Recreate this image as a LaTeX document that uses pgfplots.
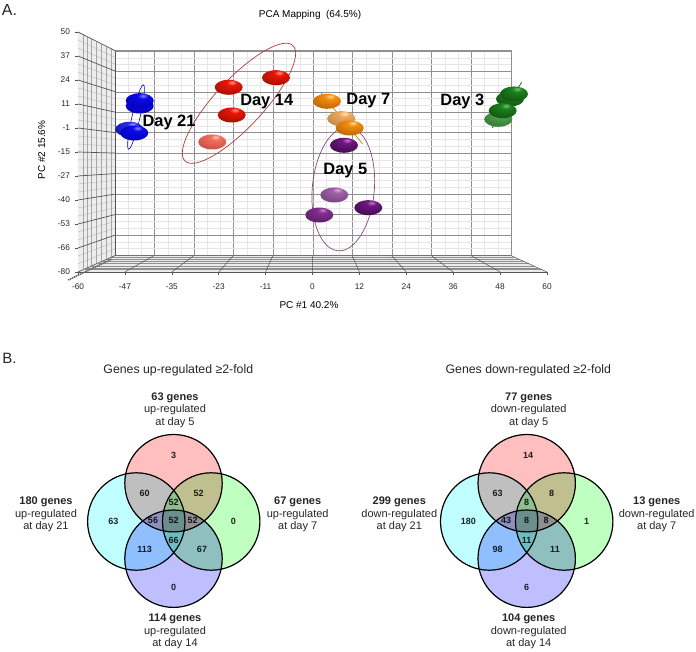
\documentclass[border=0pt]{standalone}
\usepackage{fontspec}
\setmainfont{Liberation Sans}
\usepackage{pgfplots}
\pgfplotsset{compat=1.18}
\newcommand{\fs}[2][]{\fontsize{#2}{#2}\selectfont}

% shaded flattened ball: name, highlight, body, rim
\newcommand{\declareball}[4]{%
  \definecolor{#1a}{HTML}{#2}\definecolor{#1b}{HTML}{#3}\definecolor{#1c}{HTML}{#4}%
  \pgfdeclareradialshading{shade#1}{\pgfpoint{6bp}{17bp}}{color(0bp)=(#1a);color(9bp)=(#1b);color(42bp)=(#1c);color(100bp)=(#1c)}%
  \pgfdeclareplotmark{#1}{\pgfpathellipse{\pgfpointorigin}{\pgfqpoint{14pt}{0pt}}{\pgfqpoint{0pt}{7.5pt}}\pgfshadepath{shade#1}{0}\pgfusepath{discard}}%
}
\declareball{bblue}{8C8CFF}{0A0AEE}{0000A8}
\declareball{bbluep}{A0A0FF}{2A2AE8}{1010A0}
\declareball{bred}{FF9A90}{EA1408}{961000}
\declareball{bredp}{FFC8B8}{F06E5E}{C04A40}
\declareball{borange}{FFE0A0}{F48C10}{B06000}
\declareball{borangep}{FFE8C8}{EEAA5E}{B88040}
\declareball{bpurple}{D070D0}{6E1880}{3A0848}
\declareball{bpurplem}{C880C8}{82308C}{581868}
\declareball{bpurplep}{DDB0DD}{A060A8}{70407A}
\declareball{bgreen}{70C870}{1E801E}{0E4E0E}
\declareball{bgreenp}{90D090}{50A050}{307030}

% confidence rings: name, half axis, half axis, tilt
\newcommand{\declarering}[4]{%
  \pgfdeclareplotmark{#1}{\pgfpathellipse{\pgfpointorigin}{\pgfpointpolar{#4}{#2pt}}{\pgfpointpolar{#4+90}{#3pt}}\pgfusepathqstroke}%
}
\declarering{rblue}{33}{4}{77}
\declarering{rred}{79}{24}{47}
\declarering{rpurple}{62}{31}{85}

\definecolor{majgrid}{HTML}{8F8F8F}
\definecolor{mingrid}{HTML}{E6E6E6}
\definecolor{axisgray}{HTML}{555555}
\definecolor{vpink}{HTML}{FFBFBF}
\definecolor{vcyan}{HTML}{BFFFFF}
\definecolor{vgreen}{HTML}{BFFFBF}
\definecolor{vblue}{HTML}{BFBFFF}

\pgfplotstableread{
x y n
173.7 455.7 3
144.7 493.3 60
198.7 493.3 52
173.7 502.3 52
113.3 521 63
153 520.3 56
173.7 520.3 52
192.7 520.3 52
233.3 521 0
173.7 540 66
144.7 549.3 113
202 549.3 67
173.7 587.3 0
}\upcounts
\pgfplotstableread{
x y n
528 455.7 14
497.7 493.3 63
551.7 493.3 8
526.7 502.3 8
468.3 521 180
506 520.3 43
526.7 520.3 8
546 520.3 8
586.7 521 1
526.7 540 11
497.7 549.3 98
555 549.3 11
526.7 587.3 6
}\downcounts

\begin{document}
\begin{tikzpicture}[x=1pt,y=1pt]
\path[use as bounding box] (0,0) rectangle (696,652);

% back wall of the PCA box
\begin{axis}[
    at={(115pt,396.4pt)}, anchor=south west,
    scale only axis, width=396pt, height=204.6pt,
    xmin=-60, xmax=60, ymin=-80, ymax=50,
    xtick={-60,-48,-36,-24,-12,0,12,24,36,48,60},
    ytick={-80,-67,-54,-41,-28,-15,-2,11,24,37,50},
    minor tick num=2,
    xticklabels={}, yticklabels={},
    major tick length=0pt, minor tick length=0pt,
    grid=both,
    major grid style={majgrid,line width=0.8pt},
    minor grid style={mingrid,line width=0.6pt},
    axis line style={majgrid,line width=1pt},
]
\end{axis}

% front frame of the PCA box, walls and samples
\begin{axis}[
    at={(78pt,380pt)}, anchor=south west,
    scale only axis, width=469pt, height=240pt,
    xmin=-60, xmax=60, ymin=-80, ymax=50,
    clip=false,
    axis lines=left, axis line style={-,axisgray,line width=0.8pt},
    xtick={-60,-48,-36,-24,-12,0,12,24,36,48,60},
    xticklabels={-60,-47,-35,-23,-11,0,12,24,36,48,60},
    ytick={-80,-67,-54,-41,-28,-15,-2,11,24,37,50},
    yticklabels={-80,-66,-53,-40,-27,-15,-1,11,24,37,50},
    tick align=outside, major tick length=3.5pt,
    tick style={axisgray,line width=0.6pt},
    ticklabel style={font=\fs{8.3},text=black!85},
    xticklabel style={yshift=-5pt},
    yticklabel style={xshift=-1pt},
    title={PCA Mapping\ \ (64.5\%)},
    title style={at={(axis description cs:0.4947,1.046)},anchor=center,font=\fs{10},inner sep=0pt},
    xlabel={PC \#1 40.2\%},
    xlabel style={at={(axis description cs:0.4925,-0.1375)},anchor=center,font=\fs{10},inner sep=0pt},
    ylabel={PC \#2 15.6\%},
    ylabel style={at={(axis description cs:-0.0774,0.508)},anchor=center,font=\fs{10},inner sep=0pt},
    unbounded coords=jump,
]
% left wall and floor
\addplot[draw=none,fill=black!7,forget plot] coordinates {(-60,50) (-50.53,39.9) (-50.53,-71.1) (-60,-80)} -- cycle;
\addplot[draw=none,fill=black!8,forget plot] coordinates {(-60,-80) (-50.53,-71.1) (50.79,-71.1) (60,-80)} -- cycle;
% left wall, light rows
\addplot[black!25,line width=0.5pt] coordinates {
(-60,45.67) (-50.53,36.21) (nan,nan) (-60,41.33) (-50.53,32.51) (nan,nan)
(-60,32.67) (-50.53,25.11) (nan,nan) (-60,28.33) (-50.53,21.4) (nan,nan)
(-60,19.67) (-50.53,14.01) (nan,nan) (-60,15.33) (-50.53,10.3) (nan,nan)
(-60,6.67) (-50.53,2.91) (nan,nan) (-60,2.33) (-50.53,-0.8) (nan,nan)
(-60,-6.33) (-50.53,-8.2) (nan,nan) (-60,-10.67) (-50.53,-11.9) (nan,nan)
(-60,-19.33) (-50.53,-19.3) (nan,nan) (-60,-23.67) (-50.53,-23) (nan,nan)
(-60,-32.33) (-50.53,-30.4) (nan,nan) (-60,-36.67) (-50.53,-34.11) (nan,nan)
(-60,-45.33) (-50.53,-41.5) (nan,nan) (-60,-49.67) (-50.53,-45.21) (nan,nan)
(-60,-58.33) (-50.53,-52.6) (nan,nan) (-60,-62.67) (-50.53,-56.31) (nan,nan)
(-60,-71.33) (-50.53,-63.71) (nan,nan) (-60,-75.67) (-50.53,-67.41)
};
% left wall, depth columns
\addplot[black!35,line width=0.6pt] coordinates {
(-58.64,48.5) (-58.64,-78.75) (nan,nan) (-57.62,47.4) (-57.62,-77.78) (nan,nan)
(-56.49,46.2) (-56.49,-76.75) (nan,nan) (-55.21,44.8) (-55.21,-75.56) (nan,nan)
(-53.94,43.45) (-53.94,-74.37) (nan,nan) (-52.66,42.04) (-52.66,-73.18) (nan,nan)
(-51.38,40.68) (-51.38,-71.99)
};
% left wall, strong rows
\addplot[axisgray,line width=0.7pt] coordinates {
(-60,50) (-50.53,39.9) (nan,nan) (-60,37) (-50.53,28.8) (nan,nan)
(-60,24) (-50.53,17.7) (nan,nan) (-60,11) (-50.53,6.6) (nan,nan)
(-60,-2) (-50.53,-4.5) (nan,nan) (-60,-15) (-50.53,-15.6) (nan,nan)
(-60,-28) (-50.53,-26.7) (nan,nan) (-60,-41) (-50.53,-37.8) (nan,nan)
(-60,-54) (-50.53,-48.9) (nan,nan) (-60,-67) (-50.53,-60) (nan,nan)
(-60,-80) (-50.53,-71.1)
};
% floor rows
\addplot[majgrid,line width=0.7pt] coordinates {
(-58.64,-78.75) (58.67,-78.75) (nan,nan) (-57.62,-77.78) (57.67,-77.78) (nan,nan)
(-56.49,-76.75) (56.56,-76.75) (nan,nan) (-55.21,-75.56) (55.31,-75.56) (nan,nan)
(-53.94,-74.37) (54.05,-74.37) (nan,nan) (-52.66,-73.18) (52.8,-73.18) (nan,nan)
(-51.38,-71.99) (51.55,-71.99)
};
% floor depth lines and edges
\addplot[axisgray,line width=0.5pt] coordinates {
(-48,-80) (-40.53,-71.1) (nan,nan) (-36,-80) (-30.4,-71.1) (nan,nan)
(-24,-80) (-20.26,-71.1) (nan,nan) (-12,-80) (-10.13,-71.1) (nan,nan)
(0,-80) (0,-71.1) (nan,nan) (12,-80) (10.13,-71.1) (nan,nan)
(24,-80) (20.26,-71.1) (nan,nan) (36,-80) (30.4,-71.1) (nan,nan)
(48,-80) (40.53,-71.1) (nan,nan) (60,-80) (50.79,-71.1)
};
\addplot[axisgray,line width=0.9pt] coordinates {(-50.53,39.9) (-50.53,-71.1)};
\addplot[majgrid!80!black,line width=1pt] coordinates {(-50.53,-71.1) (50.79,-71.1)};
% depth ticks packed along the lower left edge
\addplot[black!60,line width=1.6pt,dash pattern=on 1.4pt off 0.7pt] coordinates {(-62.48,-84.33) (-51.3,-72.96)};

% rings and whiskers behind the balls
\addplot[only marks,mark=rblue,mark options={draw=blue!75!black,line width=0.6pt}] coordinates {(-45.16,3.96)};
\addplot[only marks,mark=rred,mark options={draw=red!55!black!75,line width=0.7pt}] coordinates {(-18.81,11.38)};
\addplot[only marks,mark=rpurple,mark options={draw=violet!60!black!70,line width=0.7pt}] coordinates {(7.88,-35.04)};
\addplot[orange!90!black,line width=0.7pt] coordinates {(2.17,16.96) (12.84,-10.67)};
\addplot[green!40!black,line width=0.7pt] coordinates {(53.52,22.75) (46,-1.89)};

% samples
\addplot[only marks,mark=bblue] coordinates {(-44.21,9.92) (-44.21,12.79)};
\addplot[only marks,mark=bbluep] coordinates {(-46.87,-2.7)};
\addplot[only marks,mark=bblue] coordinates {(-45.59,-4.71)};
\addplot[only marks,mark=bred] coordinates {(-21.44,20.05) (-9.34,25.25) (-20.67,5.04)};
\addplot[only marks,mark=bredp] coordinates {(-25.64,-9.58)};
\addplot[only marks,mark=borange] coordinates {(3.71,12.46)};
\addplot[only marks,mark=borangep] coordinates {(7.37,3.04)};
\addplot[only marks,mark=borange] coordinates {(9.52,-2)};
\addplot[only marks,mark=bpurple] coordinates {(8.06,-11.37) (14.28,-45.17)};
\addplot[only marks,mark=bpurplep] coordinates {(5.58,-38.29)};
\addplot[only marks,mark=bpurplem] coordinates {(1.74,-49.13)};
\addplot[only marks,mark=bgreenp] coordinates {(47.54,2.71)};
\addplot[only marks,mark=bgreen] coordinates {(50.53,13.71) (51.56,16.42) (48.66,7.37)};
\end{axis}

% panel B and all free text, in picture pixels
\begin{scope}[blend mode=multiply]
\begin{axis}[
    at={(0pt,0pt)}, anchor=south west,
    scale only axis, width=696pt, height=652pt,
    xmin=0, xmax=696, ymin=0, ymax=652, y dir=reverse,
    axis lines=none, clip=false,
    every node near coord/.style={anchor=center,inner sep=0pt,font=\fs{9}\bfseries,text=black!85},
]
\addplot[only marks,mark=*,mark size=48.7pt,mark options={draw=black,fill=vpink,line width=1.2pt}] coordinates {(173.5,483.2) (526.7,483.2)};
\addplot[only marks,mark=*,mark size=48.7pt,mark options={draw=black,fill=vcyan,line width=1.2pt}] coordinates {(136.3,521.5) (489.2,521.5)};
\addplot[only marks,mark=*,mark size=48.7pt,mark options={draw=black,fill=vgreen,line width=1.2pt}] coordinates {(211.2,521.5) (564.2,521.5)};
\addplot[only marks,mark=*,mark size=48.7pt,mark options={draw=black,fill=vblue,line width=1.2pt}] coordinates {(173.5,558.7) (526.7,558.7)};
\addplot[draw=none,mark=none,nodes near coords,point meta=explicit symbolic] table[x=x,y=y,meta=n] {\upcounts};
\addplot[draw=none,mark=none,nodes near coords,point meta=explicit symbolic] table[x=x,y=y,meta=n] {\downcounts};

\node[font=\fs{16},text=black!85,anchor=center] at (axis cs:9.5,9.5) {A.};
\node[font=\fs{15},text=black!85,anchor=center] at (axis cs:9.5,358) {B.};
\tikzset{vlab/.style={align=center,anchor=center,inner sep=0pt,text=black!85,font=\fontsize{11}{12.5}\selectfont}}
\node[font=\fs{12.3},text=black!85] at (axis cs:178.3,370.7) {Genes up-regulated ≥2-fold};
\node[font=\fs{12.3},text=black!85] at (axis cs:528.3,370.7) {Genes down-regulated ≥2-fold};
\node[vlab] at (axis cs:175,410.3) {\textbf{63 genes}\\up-regulated\\at day 5};
\node[vlab] at (axis cs:46,514.3) {\textbf{180 genes}\\up-regulated\\at day 21};
\node[vlab] at (axis cs:297.7,514.3) {\textbf{67 genes}\\up-regulated\\at day 7};
\node[vlab] at (axis cs:175,631.7) {\textbf{114 genes}\\up-regulated\\at day 14};
\node[vlab] at (axis cs:528.7,410.3) {\textbf{77 genes}\\down-regulated\\at day 5};
\node[vlab] at (axis cs:399.3,514.3) {\textbf{299 genes}\\down-regulated\\at day 21};
\node[vlab] at (axis cs:656.7,514.3) {\textbf{13 genes}\\down-regulated\\at day 7};
\node[vlab] at (axis cs:528.7,631.7) {\textbf{104 genes}\\down-regulated\\at day 14};
\tikzset{daylab/.style={font=\fs{16.4}\bfseries,anchor=center,inner sep=0pt}}
\node[daylab] at (axis cs:169,122.3) {Day 21};
\node[daylab] at (axis cs:266.7,101.3) {Day 14};
\node[daylab] at (axis cs:368.3,100.7) {Day 7};
\node[daylab] at (axis cs:462.3,101.7) {Day 3};
\node[daylab] at (axis cs:345.3,170.7) {Day 5};
\end{axis}
\end{scope}
\end{tikzpicture}
\end{document}
